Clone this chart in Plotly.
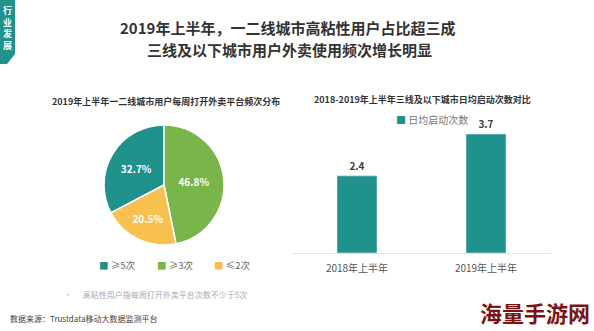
import plotly.graph_objects as go

pie_labels = ["≥5次", "≥3次", "≤2次"]
pie_values = [32.7, 46.8, 20.5]
pie_colors = ["#21918c", "#79b54b", "#f8c04f"]

bar_cats = ["2018年上半年", "2019年上半年"]
bar_vals = [2.4, 3.7]
bar_name = "日均启动次数"
bar_color = "#21918c"

W, H = 594, 331
FONT = "Noto Sans CJK SC"

def px_x(x):
    return x / W

def px_y(y):
    return 1 - y / H

fig = go.Figure()

fig.add_trace(go.Pie(
    labels=pie_labels, values=pie_values, sort=False,
    direction="clockwise", rotation=-117.7,
    marker=dict(colors=pie_colors, line=dict(color="white", width=1.5)),
    texttemplate="%{value:.1f}%",
    textposition="inside", insidetextorientation="horizontal",
    textfont=dict(color="white", size=10, family=FONT, weight="bold"),
    domain=dict(x=[px_x(104), px_x(224)], y=[px_y(245), px_y(125)]),
    showlegend=False, hoverinfo="skip",
))

fig.add_trace(go.Bar(
    x=bar_cats, y=bar_vals, name=bar_name,
    marker=dict(color=bar_color), width=0.31,
    text=[f"{v:.1f}" for v in bar_vals], textposition="outside",
    textfont=dict(color="#404040", size=10, family=FONT, weight="bold"),
    cliponaxis=False, showlegend=False,
))

fig.update_layout(
    width=W, height=H, margin=dict(l=0, r=0, t=0, b=0),
    paper_bgcolor="white", plot_bgcolor="white",
    font=dict(family=FONT, color="#555555"),
    xaxis=dict(domain=[px_x(292.5), px_x(550.5)], showline=True, linecolor="#e3e3e3",
               linewidth=1, showgrid=False, ticks="", ticklabelstandoff=6,
               tickfont=dict(size=10, color="#555555")),
    yaxis=dict(domain=[px_y(253), px_y(118)], range=[0, 4.2], visible=False),
    showlegend=False,
)

ann = []
ann.append(dict(text="<b>2019年上半年，一二线城市高粘性用户占比超三成</b>", x=px_x(287), y=px_y(28),
                font=dict(size=15, color="#333333", family=FONT)))
ann.append(dict(text="<b>三线及以下城市用户外卖使用频次增长明显</b>", x=px_x(289), y=px_y(50),
                font=dict(size=15, color="#333333", family=FONT)))
ann.append(dict(text="<b>2019年上半年一二线城市用户每周打开外卖平台频次分布</b>", x=px_x(166), y=px_y(101),
                font=dict(size=9, color="#333333", family=FONT)))
ann.append(dict(text="<b>2018-2019年上半年三线及以下城市日均启动次数对比</b>", x=px_x(422), y=px_y(100),
                font=dict(size=9, color="#333333", family=FONT)))
# pie legend
leg_x = [97, 155, 212]
for lx, lab, col in zip(leg_x, pie_labels, pie_colors):
    ann.append(dict(text=f"<span style='color:{col}'>■</span> {lab}", x=px_x(lx), y=px_y(265),
                    xanchor="left", font=dict(size=9.5, color="#666666", family=FONT)))
# bar legend
ann.append(dict(text=f"<span style='color:{bar_color}'>■</span> {bar_name}", x=px_x(394), y=px_y(119),
                xanchor="left", font=dict(size=10, color="#777777", family=FONT)))
ann.append(dict(text="•      高粘性用户指每周打开外卖平台次数不少于5次", x=px_x(62), y=px_y(294), xanchor="left",
                font=dict(size=8, color="#aaaaaa", family=FONT)))
ann.append(dict(text="数据来源：Trustdata移动大数据监测平台", x=px_x(8), y=px_y(318), xanchor="left",
                font=dict(size=8, color="#444444", family=FONT)))
ann.append(dict(text="<b>行<br>业<br>发<br>展</b>", x=px_x(7), y=px_y(28),
                font=dict(size=9, color="white", family=FONT)))
ann.append(dict(text="<b>海量手游网</b>", x=px_x(535), y=px_y(312),
                font=dict(size=22, color="#7a1414", family=FONT)))
for a in ann:
    a.update(xref="paper", yref="paper", showarrow=False)
    a.setdefault("xanchor", "center")
    a.setdefault("yanchor", "middle")
fig.update_layout(annotations=ann)

fig.add_shape(type="path", xref="paper", yref="paper",
              path=f"M 0 {px_y(0)} L {px_x(15)} {px_y(0)} L {px_x(15)} {px_y(54)} L {px_x(7)} {px_y(64)} L 0 {px_y(64)} Z",
              fillcolor="#21918c", line=dict(width=0), layer="below")

fig.write_html("out.html")
